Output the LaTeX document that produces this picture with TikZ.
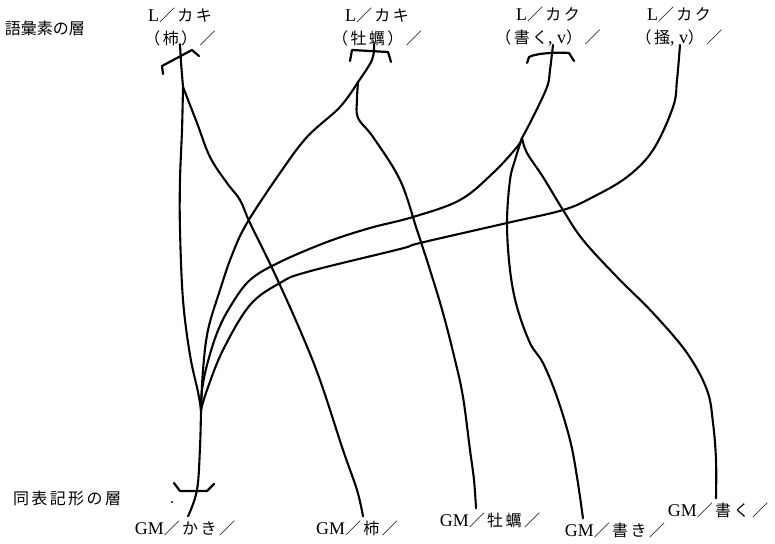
\documentclass[tikz,border=0pt]{standalone}
\usepackage{fontspec}
\setmainfont[Scale=1.12]{Liberation Serif}
\newfontfamily\jp[LetterSpace=15]{Noto Sans CJK JP}
\newfontfamily\jpn{Noto Sans CJK JP}
\begin{document}
\begin{tikzpicture}[x=1pt,y=-1pt,line cap=round,line join=round,
  lab/.style={inner sep=0pt,align=center,font=\fontsize{16}{23}\selectfont},
  layer/.style={inner sep=0pt,font=\fontsize{16}{18}\selectfont},
  wire/.style={line width=2.1pt},
  brk/.style={line width=2.2pt}]
\useasboundingbox (0,0) rectangle (775,543);

% layer labels
\node[layer] (layA) at (45,28) {\jpn 語彙素の層};
\node[layer] (layB) at (67,498) {\jp 同表記形の層};

% top (lexeme) labels
\node[lab] (L1) at (180,27) {L{\jp ／カキ}\\{\jp （柿）／}};
\node[lab] (L2) at (377,27) {L{\jp ／カキ}\\{\jp （牡蠣）／}};
\node[lab] (L3) at (548,27) {L{\jp ／カク}\\{\jp （書く}, v{\jp ）／}};
\node[lab] (L4) at (679,27) {L{\jp ／カク}\\{\jp （掻}, v{\jp ）／}};

% bottom (graphemic) labels
\node[layer] (G1) at (185,528) {GM{\jp ／かき／}};
\node[layer] (G2) at (357,528) {GM{\jp ／柿／}};
\node[layer] (G3) at (490,520) {GM{\jp ／牡蠣／}};
\node[layer] (G4) at (615,530) {GM{\jp ／書き／}};
\node[layer] (G5) at (718,510) {GM{\jp ／書く／}};

% branch points
\coordinate (b1) at (183,87);
\coordinate (b2) at (358,82);
\coordinate (b3) at (522,138);
\coordinate (cv) at (201,410);

% brackets
\draw[brk] (163,74) -- (162,66) -- (192,50) -- (199,56);
\draw[brk] (350,61) -- (352,50) -- (388,52) -- (391,62);
\draw[brk] (527,63) -- (529,57) .. controls (536,53) and (560,52) .. (569,53) -- (574,61);
\draw[brk] (174,483) -- (180,491) -- (207,491) -- (214,484);
\fill (172,502) circle (1.2pt);

% trunks from the lexemes
\draw[wire] plot[smooth,tension=0.6] coordinates {([yshift=2pt]L1.south) (181,62) (b1)};
\draw[wire] plot[smooth,tension=0.6] coordinates {([xshift=-3pt,yshift=2pt]L2.south) (372,60) (b2)};
\draw[wire] plot[smooth,tension=0.6] coordinates {([xshift=5pt,yshift=2pt]L3.south) (550,70) (547,87) (533,117) (b3)};

% kaki (persimmon)
\draw[wire] plot[smooth,tension=0.6] coordinates {(b1) (182,130) (180,180) (180,230) (183,300) (190,355) (198,392) (cv)};
\draw[wire] plot[smooth,tension=0.6] coordinates {(b1) (197,123) (210,157) (227,183) (240,200) (250,223) (273,270) (300,330) (320,380) (343,450) (357,490) ([xshift=6pt,yshift=4pt]G2.north)};

% kaki (oyster)
\draw[wire] plot[smooth,tension=0.6] coordinates {(b2) (340,107) (307,137) (280,173) (247,223) (232,255) (220,290) (208,330) (203,370) (cv)};
\draw[wire] plot[smooth,tension=0.6] coordinates {(b2) (357,100) (358,118) (373,137) (400,180) (417,230) (430,270) (443,313) (455,360) (463,397) (470,450) (474,480) ([xshift=-14pt,yshift=4pt]G3.north)};

% kaku (write)
\draw[wire] plot[smooth,tension=0.6] coordinates {(b3) (517,147) (493,173) (460,200) (413,217) (370,228) (327,242) (280,262) (250,280) (230,307) (217,333) (207,365) (202,390) (cv)};
\draw[wire] plot[smooth,tension=0.6] coordinates {(b3) (515,160) (510,180) (507,223) (510,270) (517,307) (530,343) (543,363) (557,397) (570,440) (577,477) ([xshift=-32pt,yshift=4pt]G4.north)};
\draw[wire] plot[smooth,tension=0.6] coordinates {(b3) (527,153) (543,177) (563,210) (583,240) (617,277) (653,313) (687,353) (707,390) (713,423) (716,460) ([xshift=-2pt,yshift=4pt]G5.north)};

% kaku (scratch)
\draw[wire] plot[smooth,tension=0.6] coordinates {([xshift=1pt,yshift=2pt]L4.south) (677,80) (673,107) (653,150) (627,177) (593,197) (563,210) (507,223) (420,243) (400,249) (307,272) (280,283) (250,305) (223,350) (207,390) (cv)};

% common stem to GM/kaki
\draw[wire] plot[smooth,tension=0.6] coordinates {(cv) (200,447) (197,490) ([xshift=3pt,yshift=4pt]G1.north)};
\end{tikzpicture}
\end{document}
